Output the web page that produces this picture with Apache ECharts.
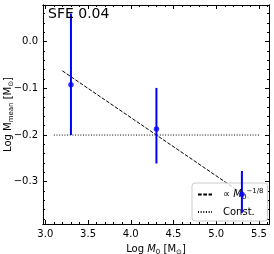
<!DOCTYPE html>
<html><head><meta charset="utf-8">
<script src="https://cdn.jsdelivr.net/npm/echarts@6/dist/echarts.min.js"></script>
<style>html,body{margin:0;padding:0;background:#fff}#c{width:274px;height:254px}</style>
</head><body><div id="c"></div>
<script>
const xVals = [3.3, 4.3, 5.3];
const meanVals = [-0.092, -0.187, -0.327];
const errLow = [-0.200, -0.261, -0.367];
const errHigh = [0.060, -0.099, -0.277];
const fitX = [3.2, 5.4];
const fitY = [-0.0625, -0.3375];
const constX = [3.1, 5.5];
const constY = [-0.2, -0.2];
const xMajor = [3.0, 3.5, 4.0, 4.5, 5.0, 5.5];
const xMinor = [3.0,3.1,3.2,3.3,3.4,3.5,3.6,3.7,3.8,3.9,4.0,4.1,4.2,4.3,4.4,4.5,4.6,4.7,4.8,4.9,5.0,5.1,5.2,5.3,5.4,5.5,5.6];
const yMajor = [0.0, -0.1, -0.2, -0.3];
const yMinor = [0.06,0.04,0.02,0.0,-0.02,-0.04,-0.06,-0.08,-0.1,-0.12,-0.14,-0.16,-0.18,-0.2,-0.22,-0.24,-0.26,-0.28,-0.3,-0.32,-0.34,-0.36,-0.38];
const titleText = 'SFE 0.04';

const FONT = 'DejaVu Sans';
const X_MIN = 2.973, X_MAX = 5.617, Y_MIN = -0.3906, Y_MAX = 0.0786;
const fmt = v => v.toFixed(1).replace('-', '\u2212');

function xAx(pos, ticks, len, labels, extra) {
  return Object.assign({
    type: 'value', position: pos, min: X_MIN, max: X_MAX,
    axisLine: { show: true, onZero: false, lineStyle: { color: '#000', width: 1 } },
    axisTick: { show: true, inside: true, length: len, customValues: ticks, lineStyle: { color: '#000', width: 1 } },
    axisLabel: labels ? { show: true, customValues: ticks, formatter: fmt, fontFamily: FONT, fontSize: 10, color: '#000', margin: 5 } : { show: false },
    splitLine: { show: false }
  }, extra || {});
}
function yAx(pos, ticks, len, labels, extra) {
  return Object.assign({
    type: 'value', position: pos, min: Y_MIN, max: Y_MAX,
    axisLine: { show: true, onZero: false, lineStyle: { color: '#000', width: 1 } },
    axisTick: { show: true, inside: true, length: len, customValues: ticks, lineStyle: { color: '#000', width: 1 } },
    axisLabel: labels ? { show: true, customValues: ticks, formatter: fmt, fontFamily: FONT, fontSize: 10, color: '#000', margin: 5 } : { show: false },
    splitLine: { show: false }
  }, extra || {});
}

const chart = echarts.init(document.getElementById('c'), null, { renderer: 'canvas' });
chart.setOption({
  animation: false,
  backgroundColor: '#fff',
  title: { text: titleText, left: 48, top: 7, padding: 0, textStyle: { fontFamily: FONT, fontSize: 14, fontWeight: 'normal', color: '#000' } },
  grid: { left: 43, right: 5, top: 5, bottom: 30, containLabel: false, outerBoundsMode: 'none' },
  xAxis: [
    xAx('bottom', xMajor, 4, true, {
      name: 'Log {i|M}{sub|0} [M{sub|\u2299}]', nameLocation: 'middle', nameGap: 19, nameMoveOverlap: false,
      nameTextStyle: { fontFamily: FONT, fontSize: 10, color: '#000',
        rich: { i: { fontFamily: FONT, fontSize: 10, fontStyle: 'italic' }, sub: { fontFamily: FONT, fontSize: 7, padding: [6, 0, 0, 0] } } }
    }),
    xAx('bottom', xMinor, 2, false),
    xAx('top', xMajor, 4, false),
    xAx('top', xMinor, 2, false)
  ],
  yAxis: [
    yAx('left', yMajor, 4, true, {
      name: 'Log M{sub|mean} [M{sub|\u2299}]', nameLocation: 'middle', nameGap: 28, nameRotate: 90, nameMoveOverlap: false,
      nameTextStyle: { fontFamily: FONT, fontSize: 10, color: '#000',
        rich: { sub: { fontFamily: FONT, fontSize: 7, padding: [6, 0, 0, 0] } } }
    }),
    yAx('left', yMinor, 2, false),
    yAx('right', yMajor, 4, false),
    yAx('right', yMinor, 2, false)
  ],
  legend: {
    orient: 'vertical', left: 192, top: 183, padding: [5, 4, 4, 5], itemGap: 6,
    itemWidth: 14, itemHeight: 10,
    backgroundColor: 'rgba(255,255,255,0.8)', borderColor: '#ccc', borderWidth: 1, borderRadius: 3,
    itemStyle: { opacity: 0 },
    data: ['fit', 'const'],
    formatter: n => n === 'fit' ? '\u221d {i|M}{sub|0}{sup|\u22121/8}' : 'Const.',
    textStyle: { fontFamily: FONT, fontSize: 10, color: '#000', padding: [0, 0, 0, 6],
      rich: { i: { fontFamily: FONT, fontSize: 10, fontStyle: 'italic' },
              sub: { fontFamily: FONT, fontSize: 7, padding: [6, 0, 0, 0] },
              sup: { fontFamily: FONT, fontSize: 7, padding: [0, 0, 6, 0] } } }
  },
  series: [
    { name: 'fit', type: 'line', xAxisIndex: 0, yAxisIndex: 0, symbol: 'none',
      lineStyle: { color: '#000', width: 1, type: [3.7, 1.6] }, itemStyle: { color: '#000' },
      data: fitX.map((x, i) => [x, fitY[i]]), z: 3 },
    { name: 'const', type: 'line', xAxisIndex: 0, yAxisIndex: 0, symbol: 'none',
      lineStyle: { color: '#000', width: 1, type: [1, 1.65] }, itemStyle: { color: '#000' },
      data: constX.map((x, i) => [x, constY[i]]), z: 3 },
    { name: 'err', type: 'custom', xAxisIndex: 0, yAxisIndex: 0,
      encode: { x: 0, y: [1, 2] },
      data: xVals.map((x, i) => [x, errLow[i], errHigh[i]]),
      renderItem: (params, api) => {
        const p1 = api.coord([api.value(0), api.value(1)]);
        const p2 = api.coord([api.value(0), api.value(2)]);
        return { type: 'line', shape: { x1: p1[0], y1: p1[1], x2: p2[0], y2: p2[1] },
                 style: { stroke: '#0000ff', lineWidth: 2 } };
      }, z: 4 },
    { name: 'mean', type: 'scatter', xAxisIndex: 0, yAxisIndex: 0, symbol: 'circle', symbolSize: 5.5,
      itemStyle: { color: '#0000ff' }, data: xVals.map((x, i) => [x, meanVals[i]]), z: 5 }
  ]
});
</script></body></html>
